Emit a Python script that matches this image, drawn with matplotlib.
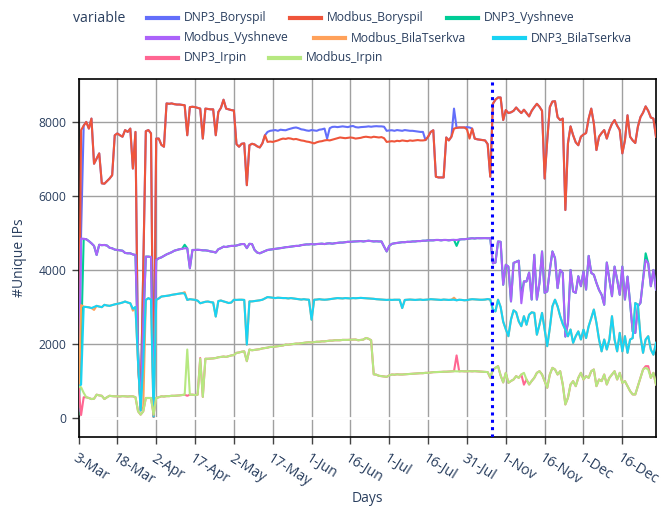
import numpy as np
import matplotlib
matplotlib.use('Agg')
import matplotlib.pyplot as plt
from matplotlib.lines import Line2D

plt.rcParams['font.family'] = ['Open Sans', 'DejaVu Sans']

# x axis is categorical (one category per day), labels shown every 15 days
tick_labels = ['3-Mar', '18-Mar', '2-Apr', '17-Apr', '2-May', '17-May', '1-Jun',
               '16-Jun', '1-Jul', '16-Jul', '31-Jul', '1-Nov', '16-Nov', '1-Dec', '16-Dec']
gap_after = 159.5   # break between the two observation periods

dnp3_boryspil = [
    200, 5000, 7900, 8000, 7820, 8090, 6870, 7010, 7150, 6340,
    6330, 6400, 6470, 6560, 7640, 7690, 7640, 7600, 7780, 7730,
    7820, 6740, 7730, 1500, 300, 4000, 7750, 7780, 7690, 30,
    7550, 7550, 7380, 7330, 8500, 8490, 8500, 8480, 8470, 8470,
    8460, 8450, 7640, 8400, 8410, 8400, 8380, 8360, 7550, 8360,
    8350, 8340, 8340, 7640, 8270, 8380, 8600, 8360, 8340, 8320,
    8310, 7400, 7330, 7410, 7420, 6290, 7370, 7410, 7390, 7340,
    7310, 7420, 7640, 7730, 7760, 7770, 7780, 7760, 7790, 7780,
    7775, 7800, 7820, 7840, 7850, 7830, 7800, 7790, 7770, 7760,
    7780, 7770, 7760, 7790, 7800, 7820, 7550, 7830, 7865, 7870,
    7860, 7870, 7880, 7870, 7860, 7880, 7890, 7860, 7850, 7860,
    7865, 7870, 7880, 7870, 7880, 7885, 7880, 7880, 7870, 7760,
    7770, 7775, 7760, 7780, 7770, 7760, 7780, 7770, 7760, 7760,
    7750, 7740, 7730, 7730, 7510, 7600, 7730, 7775, 6520, 6500,
    6500, 6500, 7580, 7500, 7600, 8360, 7840, 7850, 7850, 7850,
    7860, 7850, 7820, 7550, 7530, 7520, 7510, 7500, 7400, 6520,
    8490, 8600, 8660, 8660, 8050, 8320, 8240, 8260, 8300, 8390,
    8310, 8240, 8330, 8240, 8150, 8300, 8400, 8490, 8410, 8300,
    6470, 7500, 8400, 8550, 8560, 8130, 8050, 8090, 5620, 7420,
    7880, 7640, 7450, 7370, 7600, 7660, 7700, 8090, 8360, 7960,
    7240, 7600, 7700, 7780, 7550, 7780, 7950, 8050, 7900, 7780,
    7150, 7500, 8180, 7600, 7500, 7430, 7870, 8130, 8250, 8420,
    8300, 8120, 8090, 7600]

modbus_boryspil = [
    100, 7780, 7900, 8000, 7820, 8090, 6870, 7010, 7150, 6340,
    6330, 6400, 6470, 6560, 7640, 7690, 7640, 7600, 7780, 7730,
    7820, 6740, 7730, 1500, 300, 4000, 7750, 7780, 7690, 30,
    7550, 7550, 7380, 7330, 8500, 8490, 8500, 8480, 8470, 8470,
    8460, 8450, 7640, 8400, 8410, 8400, 8380, 8360, 7550, 8360,
    8350, 8340, 8340, 7640, 8270, 8380, 8600, 8360, 8340, 8320,
    8310, 7400, 7330, 7410, 7420, 6290, 7370, 7410, 7390, 7340,
    7310, 7420, 7640, 7460, 7470, 7460, 7480, 7500, 7530, 7550,
    7540, 7560, 7550, 7530, 7540, 7520, 7500, 7490, 7470, 7460,
    7440, 7420, 7450, 7470, 7480, 7500, 7510, 7500, 7520, 7540,
    7560, 7580, 7570, 7560, 7570, 7580, 7570, 7550, 7560, 7570,
    7590, 7600, 7590, 7580, 7600, 7590, 7580, 7590, 7560, 7460,
    7470, 7480, 7470, 7490, 7480, 7500, 7490, 7480, 7500, 7490,
    7500, 7510, 7500, 7500, 7510, 7600, 7730, 7775, 6520, 6500,
    6500, 6500, 7580, 7500, 7600, 7820, 7840, 7850, 7850, 7850,
    7800, 7550, 7820, 7550, 7530, 7520, 7510, 7500, 7400, 6520,
    8490, 8600, 8660, 8660, 8050, 8320, 8240, 8260, 8300, 8390,
    8310, 8240, 8330, 8240, 8150, 8300, 8400, 8490, 8410, 8300,
    6470, 7500, 8400, 8550, 8560, 8130, 8050, 8090, 5620, 7420,
    7880, 7640, 7450, 7370, 7600, 7660, 7700, 8090, 8360, 7960,
    7240, 7600, 7700, 7780, 7550, 7780, 7950, 8050, 7900, 7780,
    7150, 7500, 8180, 7600, 7500, 7430, 7870, 8130, 8250, 8420,
    8300, 8120, 8090, 7600]

dnp3_vyshneve = [
    100, 2000, 4840, 4830, 4780, 4720, 4650, 4405, 4680, 4670,
    4675, 4660, 4600, 4585, 4550, 4540, 4530, 4520, 4460, 4450,
    4450, 4420, 4405, 1800, 220, 2500, 4360, 4360, 4350, 150,
    4270, 4315, 4340, 4380, 4420, 4450, 4480, 4520, 4540, 4560,
    4570, 4680, 4585, 4045, 4540, 4540, 4545, 4540, 4530, 4530,
    4520, 4500, 4490, 4470, 4560, 4590, 4630, 4620, 4640, 4650,
    4650, 4660, 4680, 4700, 4700, 4590, 4705, 4700, 4540, 4470,
    4450, 4480, 4510, 4540, 4550, 4560, 4570, 4580, 4590, 4600,
    4615, 4620, 4630, 4640, 4650, 4650, 4670, 4680, 4690, 4690,
    4700, 4690, 4700, 4705, 4710, 4700, 4715, 4720, 4710, 4722,
    4730, 4740, 4740, 4750, 4760, 4760, 4767, 4770, 4775, 4780,
    4770, 4780, 4790, 4780, 4770, 4775, 4770, 4770, 4630, 4500,
    4650, 4705, 4720, 4730, 4740, 4750, 4750, 4760, 4760, 4770,
    4770, 4780, 4780, 4790, 4790, 4800, 4800, 4800, 4810, 4810,
    4800, 4810, 4810, 4800, 4810, 4812, 4650, 4820, 4830, 4830,
    4840, 4850, 4857, 4850, 4860, 4857, 4860, 4860, 4857, 4860,
    4180, 4200, 4770, 4760, 3600, 4140, 4090, 3150, 4190, 4220,
    4250, 3300, 3690, 3690, 3930, 3200, 4410, 3200, 3650, 4500,
    3380, 3420, 4000, 4500, 4320, 3510, 4000, 3920, 2200, 2570,
    4000, 3420, 3380, 3830, 3560, 3960, 3470, 4380, 3920, 3870,
    3650, 3460, 3330, 3060, 4200, 3740, 3290, 4090, 3740, 3330,
    4090, 3200, 3820, 3110, 2340, 2300, 3020, 3110, 3740, 4450,
    4180, 3560, 4000, 3470]

modbus_vyshneve = [
    200, 4850, 4840, 4830, 4780, 4720, 4650, 4405, 4680, 4670,
    4675, 4660, 4600, 4585, 4550, 4540, 4530, 4520, 4460, 4450,
    4450, 4420, 4405, 1800, 220, 2500, 4360, 4360, 4350, 150,
    4270, 4315, 4340, 4380, 4420, 4450, 4480, 4520, 4540, 4560,
    4570, 4585, 4585, 4045, 4540, 4540, 4545, 4540, 4530, 4530,
    4520, 4500, 4490, 4470, 4560, 4590, 4630, 4620, 4640, 4650,
    4650, 4660, 4680, 4700, 4700, 4590, 4705, 4700, 4540, 4470,
    4450, 4480, 4510, 4540, 4550, 4560, 4570, 4580, 4590, 4600,
    4615, 4620, 4630, 4640, 4650, 4650, 4670, 4680, 4690, 4690,
    4700, 4690, 4700, 4705, 4710, 4700, 4715, 4720, 4710, 4722,
    4730, 4740, 4740, 4750, 4760, 4760, 4767, 4770, 4775, 4780,
    4770, 4780, 4790, 4780, 4770, 4775, 4770, 4770, 4630, 4500,
    4650, 4705, 4720, 4730, 4740, 4750, 4750, 4760, 4760, 4770,
    4770, 4780, 4780, 4790, 4790, 4800, 4800, 4800, 4810, 4810,
    4800, 4810, 4810, 4800, 4810, 4812, 4810, 4820, 4830, 4830,
    4840, 4850, 4857, 4850, 4860, 4857, 4860, 4860, 4857, 4860,
    4180, 4200, 4770, 4760, 3600, 4140, 4090, 3150, 4190, 4220,
    4250, 3100, 3690, 3690, 3930, 3200, 4410, 3200, 3650, 4500,
    3380, 3420, 4000, 4500, 4320, 3510, 4000, 3920, 2200, 2570,
    4000, 3420, 3380, 3830, 3560, 3960, 3470, 4380, 3920, 3870,
    3650, 3460, 3330, 3060, 4200, 3740, 3290, 4090, 3740, 3330,
    4090, 3200, 3820, 3110, 2340, 2300, 3020, 3110, 3740, 4270,
    4180, 3560, 4000, 3470]

modbus_bilatserkva = [
    300, 3050, 3010, 3000, 2990, 2970, 2920, 3030, 3010, 2995,
    3057, 3040, 3030, 3050, 3070, 3084, 3100, 3120, 3147, 3120,
    3100, 2900, 3000, 1500, 200, 300, 3190, 3237, 3200, 40,
    3192, 3230, 3282, 3290, 3300, 3310, 3327, 3340, 3350, 3360,
    3372, 3400, 3190, 3210, 3200, 3192, 3170, 3100, 3120, 3140,
    3147, 3130, 3120, 2740, 3160, 3174, 3150, 3130, 3106, 3120,
    3195, 3190, 3195, 3195, 3190, 1983, 3150, 3150, 3160, 3170,
    3180, 3195, 3230, 3267, 3260, 3250, 3240, 3250, 3245, 3240,
    3240, 3230, 3240, 3230, 3220, 3210, 3200, 3210, 3200, 3195,
    2656, 3195, 3200, 3210, 3200, 3195, 3200, 3210, 3220, 3230,
    3240, 3235, 3230, 3240, 3235, 3230, 3240, 3235, 3240, 3245,
    3240, 3235, 3230, 3225, 3220, 3210, 3205, 3200, 3195, 3190,
    3195, 3190, 3195, 3195, 3195, 2970, 3190, 3195, 3200, 3195,
    3190, 3195, 3200, 3190, 3195, 3200, 3210, 3205, 3200, 3195,
    3190, 3200, 3195, 3190, 3195, 3250, 3180, 3195, 3190, 3180,
    3185, 3200, 3210, 3205, 3200, 3195, 3195, 3200, 3213, 3200,
    2930, 2880, 3195, 3000, 2600, 2400, 2210, 2660, 2910, 2855,
    2610, 2480, 2750, 2520, 2790, 2855, 2840, 2250, 2520, 2840,
    2390, 1940, 2430, 3016, 3196, 3016, 2750, 2540, 2387, 2208,
    2390, 2030, 2210, 2340, 2120, 2390, 2160, 2480, 2700, 2930,
    2570, 2120, 1800, 2120, 1850, 2120, 2750, 2120, 1800, 2300,
    1800, 2210, 1760, 2120, 2160, 3106, 3060, 2210, 1760, 2120,
    2210, 1850, 1710, 2030]

dnp3_bilatserkva = [
    850, 900, 3000, 3000, 2990, 2970, 3000, 3030, 3010, 2995,
    3057, 3040, 3030, 3050, 3070, 3084, 3100, 3120, 3147, 3120,
    3100, 2950, 3000, 1500, 200, 1500, 3190, 3237, 3200, 40,
    3192, 3230, 3282, 3290, 3300, 3310, 3327, 3340, 3350, 3360,
    3372, 3360, 3190, 3210, 3200, 3192, 3170, 3100, 3120, 3140,
    3147, 3130, 3120, 2740, 3160, 3174, 3150, 3130, 3106, 3120,
    3195, 3190, 3195, 3195, 3190, 1983, 3150, 3150, 3160, 3170,
    3180, 3195, 3230, 3267, 3260, 3250, 3240, 3250, 3245, 3240,
    3240, 3230, 3240, 3230, 3220, 3210, 3200, 3210, 3200, 3195,
    2656, 3195, 3200, 3210, 3200, 3195, 3200, 3210, 3220, 3230,
    3240, 3235, 3230, 3240, 3235, 3230, 3240, 3235, 3240, 3245,
    3240, 3235, 3230, 3225, 3220, 3210, 3205, 3200, 3195, 3190,
    3195, 3190, 3195, 3195, 3195, 2970, 3190, 3195, 3200, 3195,
    3190, 3195, 3200, 3190, 3195, 3200, 3210, 3205, 3200, 3195,
    3190, 3200, 3195, 3190, 3195, 3195, 3180, 3195, 3190, 3180,
    3185, 3200, 3210, 3205, 3200, 3195, 3195, 3200, 3213, 3200,
    2930, 2880, 3195, 3000, 2600, 2400, 2210, 2660, 2910, 2855,
    2610, 2480, 2750, 2520, 2790, 2855, 2840, 2250, 2520, 2840,
    2390, 1940, 2430, 3016, 3196, 3016, 2750, 2540, 2387, 2208,
    2390, 2030, 2210, 2340, 2120, 2390, 2160, 2480, 2700, 2930,
    2570, 2120, 1800, 2120, 1850, 2120, 2750, 2120, 1800, 2300,
    1800, 2210, 1760, 2120, 2160, 3106, 3060, 2210, 1760, 2120,
    2210, 1850, 1710, 2030]

dnp3_irpin = [
    850, 80, 560, 560, 540, 512, 520, 630, 610, 600,
    512, 560, 600, 590, 585, 585, 580, 590, 585, 580,
    585, 585, 560, 180, 90, 180, 540, 540, 540, 90,
    540, 560, 585, 580, 590, 590, 600, 600, 605, 610,
    620, 630, 600, 630, 630, 620, 630, 1620, 570, 1600,
    1600, 1605, 1610, 1620, 1640, 1650, 1660, 1650, 1670, 1690,
    1700, 1760, 1770, 1790, 1800, 1535, 1849, 1830, 1840, 1850,
    1860, 1880, 1890, 1900, 1921, 1920, 1930, 1940, 1950, 1960,
    1983, 1980, 1990, 2000, 2010, 2010, 2020, 2030, 2040, 2046,
    2040, 2050, 2060, 2060, 2070, 2070, 2080, 2090, 2090, 2100,
    2100, 2100, 2110, 2110, 2110, 2115, 2118, 2120, 2100, 2110,
    2118, 2163, 2140, 2100, 1180, 1170, 1140, 1130, 1120, 1112,
    1150, 1175, 1170, 1180, 1175, 1175, 1180, 1185, 1190, 1195,
    1200, 1205, 1210, 1210, 1220, 1220, 1230, 1238, 1240, 1240,
    1245, 1250, 1250, 1255, 1260, 1264, 1690, 1260, 1265, 1260,
    1260, 1265, 1260, 1265, 1260, 1255, 1250, 1245, 1240, 1085,
    1300, 1355, 1400, 1150, 960, 1220, 950, 1000, 1040, 1130,
    1085, 1175, 900, 1040, 905, 1000, 1085, 1220, 1264, 1175,
    995, 816, 1175, 1355, 1310, 1175, 1264, 905, 366, 546,
    905, 995, 860, 1085, 1220, 1040, 1130, 1085, 1264, 1310,
    860, 1040, 995, 1175, 905, 1085, 1175, 1264, 1040, 1220,
    950, 995, 860, 726, 636, 636, 860, 1085, 1310, 1400,
    1400, 1085, 1220, 905]

modbus_irpin = [
    850, 830, 680, 560, 540, 512, 520, 630, 610, 600,
    512, 560, 600, 590, 585, 585, 580, 590, 585, 580,
    585, 585, 560, 180, 90, 180, 540, 540, 540, 90,
    540, 560, 585, 580, 590, 590, 600, 600, 605, 610,
    620, 630, 1850, 630, 630, 620, 630, 1600, 570, 1600,
    1600, 1605, 1610, 1620, 1640, 1650, 1660, 1650, 1670, 1690,
    1700, 1760, 1770, 1790, 1800, 1535, 1849, 1830, 1840, 1850,
    1860, 1880, 1890, 1900, 1921, 1920, 1930, 1940, 1950, 1960,
    1983, 1980, 1990, 2000, 2010, 2010, 2020, 2030, 2040, 2046,
    2040, 2050, 2060, 2060, 2070, 2070, 2080, 2090, 2090, 2100,
    2100, 2100, 2110, 2110, 2110, 2115, 2118, 2120, 2100, 2110,
    2118, 2163, 2140, 2100, 1180, 1170, 1140, 1130, 1120, 1112,
    1150, 1175, 1170, 1180, 1175, 1175, 1180, 1185, 1190, 1195,
    1200, 1205, 1210, 1210, 1220, 1220, 1230, 1238, 1240, 1240,
    1245, 1250, 1250, 1255, 1260, 1264, 1260, 1260, 1265, 1260,
    1260, 1265, 1260, 1265, 1260, 1255, 1250, 1245, 1240, 1100,
    1300, 1355, 1400, 1150, 960, 1220, 950, 1000, 1040, 1130,
    1085, 1175, 1220, 1040, 905, 1000, 1085, 1220, 1264, 1175,
    995, 816, 1175, 1355, 1310, 1175, 1264, 905, 366, 546,
    905, 995, 860, 1085, 1220, 1040, 1130, 1085, 1264, 1310,
    860, 1040, 995, 1175, 905, 1085, 1175, 1264, 1040, 1220,
    950, 995, 860, 726, 636, 636, 860, 1085, 1310, 1355,
    1310, 1085, 1220, 905]

names = ['DNP3_Boryspil', 'Modbus_Boryspil', 'DNP3_Vyshneve', 'Modbus_Vyshneve',
         'Modbus_BilaTserkva', 'DNP3_BilaTserkva', 'DNP3_Irpin', 'Modbus_Irpin']
values = [dnp3_boryspil, modbus_boryspil, dnp3_vyshneve, modbus_vyshneve,
          modbus_bilatserkva, dnp3_bilatserkva, dnp3_irpin, modbus_irpin]
colors = ['#636EFA', '#EF553B', '#00CC96', '#AB63FA',
          '#FFA15A', '#19D3F3', '#FF6692', '#B6E880']

text_color = '#2a3f5f'
W, H = 668, 507

fig = plt.figure(figsize=(W / 100, H / 100), dpi=100)
ax = fig.add_axes([78.5 / W, 1 - 437 / H, (656 - 78.5) / W, (437 - 79) / H])

x = np.arange(len(modbus_boryspil))
lines = []
for name, vals, col in zip(names, values, colors):
    ln, = ax.plot(x, vals, color=col, lw=1.5, label=name, zorder=3)
    lines.append(ln)

ax.axvline(gap_after, color='blue', lw=2.2, linestyle=(0, (1, 1.4)),
           dash_capstyle='butt', zorder=5)

ax.set_xlim(0, len(x) - 1)
ax.set_ylim(-514, 9160)

ax.grid(True, color='#a0a0a0', lw=1)
ax.set_axisbelow(True)
ax.axhline(0, color='white', lw=2, zorder=1.5)
for sp in ax.spines.values():
    sp.set_color('black')
    sp.set_linewidth(1.2)

ax.set_yticks([0, 2000, 4000, 6000, 8000])
ax.set_xticks(np.arange(0, len(x), 15))
ax.set_xticklabels(tick_labels, rotation=-32, ha='left', va='top',
                   rotation_mode='anchor')
ax.tick_params(direction='out', length=5, width=1, color='#444444',
               labelcolor=text_color, labelsize=8.7)
ax.tick_params(axis='x', pad=5, labelsize=10.2)

ax.set_ylabel('#Unique IPs', fontsize=10, color=text_color)
ax.set_xlabel('Days', fontsize=10, color=text_color)
ax.yaxis.set_label_coords(-0.089, 0.5)
ax.xaxis.set_label_coords(0.5, -0.152)

# horizontal legend, wrapped over three rows like the original
fig.text(73 / W, 1 - 18 / H, 'variable', fontsize=10.2, color=text_color,
         ha='left', va='center')
legend_rows = [[(0, 147), (1, 290), (2, 447)],
               [(3, 147), (4, 314), (5, 494)],
               [(6, 147), (7, 269)]]
row_y = [18, 38, 58]
for row, yy in zip(legend_rows, row_y):
    for idx, xx in row:
        fig.add_artist(Line2D([xx / W, (xx + 31) / W], [1 - yy / H, 1 - yy / H],
                              color=colors[idx], lw=3, transform=fig.transFigure))
        fig.text((xx + 37) / W, 1 - yy / H, names[idx], fontsize=8.7,
                 color=text_color, ha='left', va='center')

fig.savefig('out.png', dpi=100)
